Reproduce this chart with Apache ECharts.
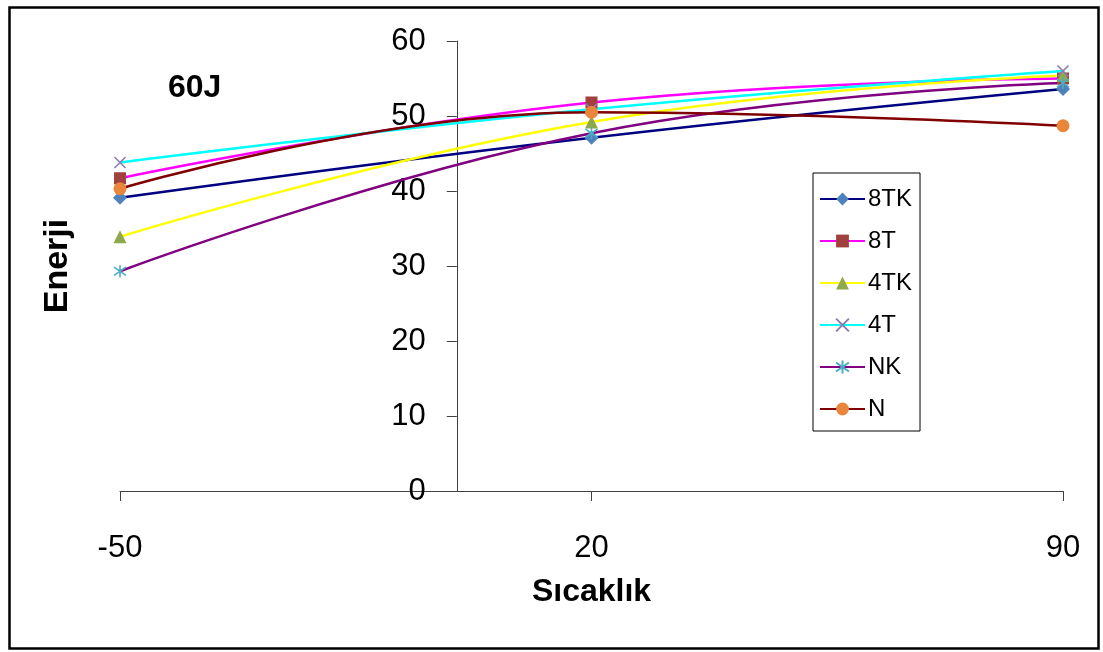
<!DOCTYPE html>
<html>
<head>
<meta charset="utf-8">
<title>60J Enerji - Sıcaklık</title>
<script src="https://cdn.jsdelivr.net/npm/echarts@6/dist/echarts.min.js"></script>
<style>
  html, body { margin: 0; padding: 0; background: #fff; }
  #chart { width: 1103px; height: 652px; }
</style>
</head>
<body>
<div id="chart"></div>
<script>
// Test temperatures (x) and absorbed energy (y) per specimen group
const temperatures = [-50, 20, 90];
const seriesNames = ['8TK', '8T', '4TK', '4T', 'NK', 'N'];
const e8TK = [39.1, 47.1, 53.6];
const e8T  = [41.7, 51.8, 55.0];
const e4TK = [33.9, 49.2, 55.4];
const e4T  = [43.8, 50.9, 56.0];
const eNK  = [29.3, 47.7, 54.4];
const eN   = [40.3, 50.5, 48.7];

const FONT = '"Liberation Sans", Arial, sans-serif';

// line colour, marker colour and marker shape for each group
const styles = {
  '8TK': { line: '#000080', mark: '#4F81BD', symbol: 'diamond', size: 14 },
  '8T':  { line: '#FF00FF', mark: '#A0413D', symbol: 'rect', size: 12 },
  '4TK': { line: '#FFFF00', mark: '#8FA84E', symbol: 'triangle', size: 13 },
  '4T':  { line: '#00FFFF', mark: '#8E7BB0', symbol: 'path://M0,0L10,10M10,0L0,10', size: 11, stroke: true },
  'NK':  { line: '#800080', mark: '#4BACC6', symbol: 'path://M5,0L5,10M0,1.5L10,8.5M0,8.5L10,1.5', size: 12, stroke: true },
  'N':   { line: '#800000', mark: '#E9863C', symbol: 'circle', size: 13 }
};

const values = { '8TK': e8TK, '8T': e8T, '4TK': e4TK, '4T': e4T, 'NK': eNK, 'N': eN };

function makeSeries(name) {
  const s = styles[name];
  return {
    name: name,
    type: 'line',
    smooth: 0.45,
    data: temperatures.map((t, i) => [t, values[name][i]]),
    symbol: s.symbol,
    symbolSize: s.size,
    showAllSymbol: true,
    lineStyle: { color: s.line, width: 2.5 },
    itemStyle: s.stroke
      ? { color: s.mark, borderColor: s.mark, borderWidth: 1.6 }
      : { color: s.mark, borderWidth: 0 },
    emphasis: { disabled: true }
  };
}

// plot area in pixels; the vertical axis sits where temperature = 0
const gridLeft = 120, gridRight = 40;
const plotWidth = 1103 - gridLeft - gridRight;
const yAxisShift = plotWidth * (0 - temperatures[0]) / (temperatures[2] - temperatures[0]);

const chart = echarts.init(document.getElementById('chart'), null, { renderer: 'canvas' });

chart.setOption({
  animation: false,
  backgroundColor: '#fff',
  textStyle: { fontFamily: FONT },
  grid: { left: gridLeft, right: gridRight, top: 41, bottom: 161, containLabel: false, outerBoundsMode: 'none' },
  xAxis: {
    type: 'value',
    min: -50,
    max: 90,
    interval: 70,
    name: 'Sıcaklık',
    nameLocation: 'middle',
    nameGap: 85,
    nameTextStyle: { fontFamily: FONT, fontSize: 32, fontWeight: 'bold', color: '#000' },
    axisLine: { onZero: false, lineStyle: { color: '#404040', width: 1 } },
    axisTick: { show: true, length: 10, lineStyle: { color: '#404040' } },
    axisLabel: { fontFamily: FONT, fontSize: 31, color: '#000', margin: 42 },
    splitLine: { show: false }
  },
  yAxis: {
    type: 'value',
    min: 0,
    max: 60,
    interval: 10,
    offset: -yAxisShift,
    name: 'Enerji',
    nameLocation: 'middle',
    nameGap: 382,
    nameTextStyle: { fontFamily: FONT, fontSize: 34, fontWeight: 'bold', color: '#000' },
    axisLine: { onZero: false, lineStyle: { color: '#404040', width: 1 } },
    axisTick: { show: true, length: 10, lineStyle: { color: '#404040' } },
    axisLabel: { fontFamily: FONT, fontSize: 31, color: '#000', margin: 31 },
    splitLine: { show: false }
  },
  legend: {
    data: seriesNames,
    orient: 'vertical',
    left: 813,
    top: 173,
    itemWidth: 45,
    itemHeight: 16,
    itemGap: 16,
    padding: [13, 8, 9, 6],
    borderColor: '#000',
    borderWidth: 1,
    backgroundColor: '#fff',
    textStyle: { fontFamily: FONT, fontSize: 24, color: '#000', lineHeight: 26, padding: [0, 0, 0, -2] }
  },
  graphic: [
    {
      type: 'rect',
      left: 7, top: 5,
      shape: { width: 1089, height: 641 },
      style: { fill: 'none', stroke: '#000', lineWidth: 2.5 },
      z: 100, silent: true
    },
    {
      type: 'text',
      left: 168, top: 72,
      style: { text: '60J', font: 'bold 32px ' + FONT, fill: '#000' },
      z: 100
    }
  ],
  series: seriesNames.map(makeSeries)
});
</script>
</body>
</html>
